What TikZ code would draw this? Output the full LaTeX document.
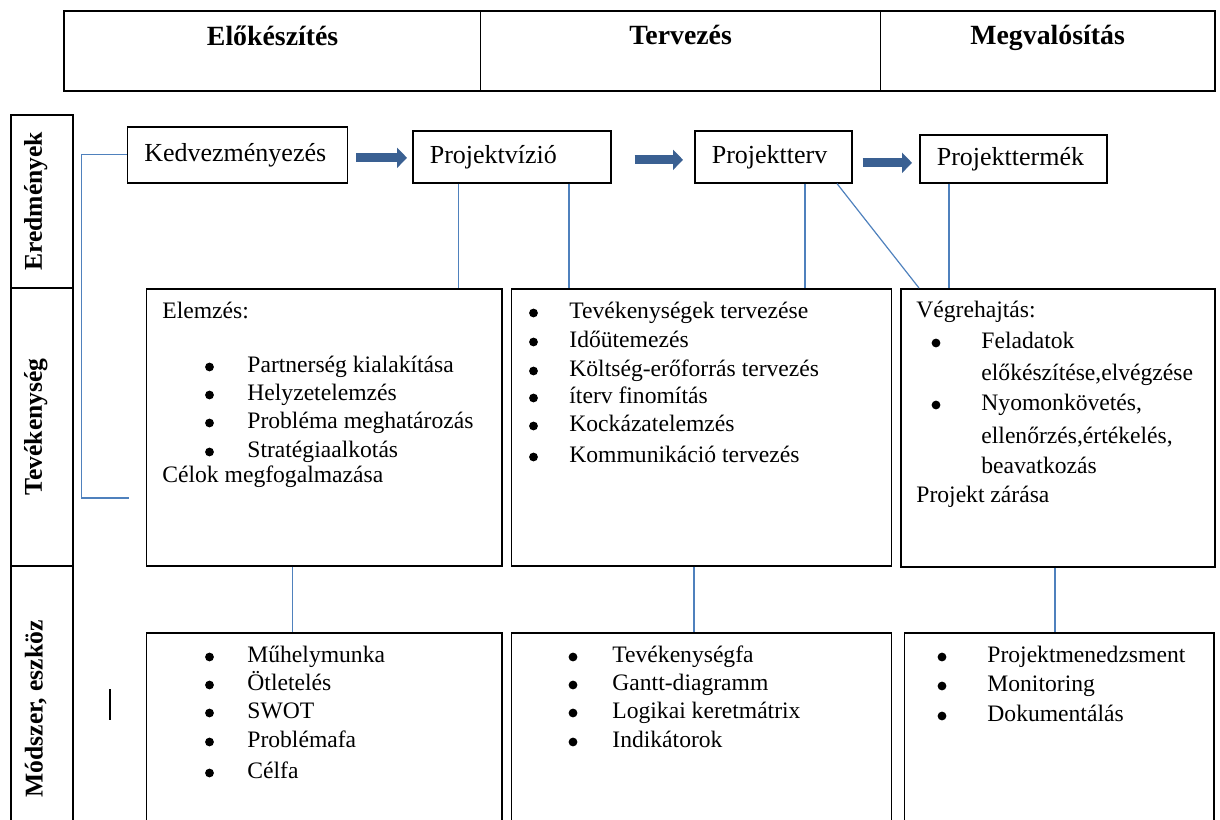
\documentclass[tikz,border=0pt]{standalone}
\usepackage{fontspec}
\setmainfont{Liberation Serif}
\usetikzlibrary{arrows.meta}
\usetikzlibrary{positioning}
\definecolor{linkblue}{RGB}{79,129,189}
\definecolor{arrowblue}{RGB}{58,96,146}

\begin{document}
\begin{tikzpicture}[x=0.5pt,y=-0.5pt,
    box/.style={draw, line width=0.8pt, anchor=north west, inner sep=0pt},
    resbox/.style={draw, line width=0.8pt, anchor=north west, inner xsep=8.5pt,
        inner ysep=0pt, align=left, font=\fontsize{13}{15}\selectfont},
    head/.style={font=\fontsize{13.9}{16}\selectfont\bfseries, inner sep=0pt},
    side/.style={font=\fontsize{12.8}{15}\selectfont\bfseries, rotate=90, inner sep=0pt},
    item/.style={anchor=west, inner sep=0pt, text height=8pt, text depth=2.5pt,
        font=\fontsize{11.8}{14}\selectfont},
    dot/.style={circle, fill, inner sep=0pt, minimum size=4.4pt},
    link/.style={draw=linkblue, line width=0.6pt},
    bigarrow/.style={draw=arrowblue, line width=4.5pt, -{Triangle[length=5pt,width=10pt]}}]

    \useasboundingbox (0,0) rectangle (1220,819);
    \clip (0,0) rectangle (1220,819);

    % phases
    \node[box, line width=0.6pt, minimum width=208pt, minimum height=39.5pt] (h1) at (64,11) {};
    \node[box, line width=0.6pt, minimum width=200pt, minimum height=39.5pt] (h2) at (480,11) {};
    \node[box, line width=0.6pt, minimum width=167pt, minimum height=39.5pt] (h3) at (880,11) {};
    \draw[line width=1.2pt] (h1.north west) rectangle (h3.south east);
    \node[head, below=7pt of h1.north] (t1) {Előkészítés};
    \node[head, below=7pt of h2.north] (t2) {Tervezés};
    \node[head, below=7pt of h3.north] (t3) {Megvalósítás};

    % row labels
    \node[box, minimum width=31pt, minimum height=86.5pt] (lab1) at (10,114) {};
    \node[box, minimum width=31pt, minimum height=139pt] (lab2) at (10,287) {};
    \node[box, minimum width=31pt, minimum height=143pt] (lab3) at (10,565) {};
    \node[side] (s1) at ([xshift=-3pt]lab1.center) {Eredmények};
    \node[side] (s2) at ([xshift=-3pt]lab2.center) {Tevékenység};
    \node[side] (s3) at ([xshift=-3pt]lab3.center) {Módszer, eszköz};

    % results
    \node[resbox, text width=93pt, minimum height=28pt] (kedv) at (126.5,126) {Kedvezményezés};
    \node[resbox, text width=82pt, minimum height=26pt] (vizio) at (412,130) {Projektvízió};
    \node[resbox, text width=61.5pt, minimum height=26pt] (terv) at (694,130) {Projektterv};
    \node[resbox, text width=76.5pt, minimum height=24pt] (termek) at (919,134) {Projekttermék};

    \draw[bigarrow, shorten <=4pt, shorten >=2.5pt] ([yshift=-1.5pt]kedv.east) -- ([yshift=-1.5pt]kedv.east -| vizio.west);
    \draw[bigarrow, shorten <=11.5pt, shorten >=5.5pt] ([yshift=-1.5pt]vizio.east) -- ([yshift=-1.5pt]vizio.east -| terv.west);
    \draw[bigarrow, shorten <=5pt, shorten >=3.5pt] ([yshift=-3pt]terv.east) -- ([yshift=-3pt]terv.east -| termek.west);

    % activities and methods
    \node[box, minimum width=177.75pt, minimum height=138.5pt] (elemzes) at (145.5,288) {};
    \node[box, minimum width=190pt, minimum height=138.5pt] (tervek) at (510.5,288) {};
    \node[box, minimum width=157pt, minimum height=139pt] (vegre) at (900,288) {};
    \node[box, minimum width=177.75pt, minimum height=110pt] (mod1) at (145.5,632) {};
    \node[box, minimum width=190pt, minimum height=110pt] (mod2) at (510.5,632) {};
    \node[box, minimum width=154.75pt, minimum height=110pt] (mod3) at (903.5,632) {};

    % links
    \coordinate (lp) at (129,498);
    \draw[link] (kedv.west) -- ++(-45,0) |- (lp);
    \draw[link] ([xshift=23.25pt]vizio.south west) -- ([xshift=23.25pt]vizio.south west |- elemzes.north);
    \draw[link] ([xshift=78.5pt]vizio.south west) -- ([xshift=78.5pt]vizio.south west |- tervek.north);
    \draw[link] ([xshift=55.5pt]terv.south west) -- ([xshift=55.5pt]terv.south west |- tervek.north);
    \draw[link] ([xshift=71.5pt]terv.south west) -- ([xshift=9.5pt]vegre.north west);
    \draw[link] ([xshift=15pt]termek.south west) -- ([xshift=15pt]termek.south west |- vegre.north);
    \draw[link] ([xshift=73.5pt]elemzes.south west) -- ([xshift=73.5pt]elemzes.south west |- mod1.north);
    \draw[link] ([xshift=91.75pt]tervek.south west) -- ([xshift=91.75pt]tervek.south west |- mod2.north);
    \draw[link] ([xshift=77.5pt]vegre.south west) -- ([xshift=77.5pt]vegre.south west |- mod3.north);

    % Elemzés
    \node[item] (e0) at (162,313) {Elemzés:};
    \foreach \y/\t [count=\i] in {367/Partnerség kialakítása, 395/Helyzetelemzés,
        423/Probléma meghatározás, 452/Stratégiaalkotás} {
        \node[dot] (eb\i) at (209.5,\y) {};
        \node[item] (et\i) at (247,\y) {\t};
    }
    \node[item] (e5) at (162,477) {Célok megfogalmazása};

    % Tervezés
    \foreach \y/\t [count=\i] in {313/Tevékenységek tervezése, 342/Időütemezés,
        371/Költség-erőforrás tervezés, 398/íterv finomítás, 426/Kockázatelemzés,
        457/Kommunikáció tervezés} {
        \node[dot] (tb\i) at (533.5,\y) {};
        \node[item] (tt\i) at (569,\y) {\t};
    }

    % Végrehajtás
    \node[item] (v0) at (916,312) {Végrehajtás:};
    \node[dot] (vb1) at (936,343) {};
    \node[item] (v1) at (981,343) {Feladatok};
    \node[item] (v2) at (981,375) {előkészítése,elvégzése};
    \node[dot] (vb2) at (936,405) {};
    \node[item] (v3) at (981,405) {Nyomonkövetés,};
    \node[item] (v4) at (981,438) {ellenőrzés,értékelés,};
    \node[item] (v5) at (981,468) {beavatkozás};
    \node[item] (v6) at (916,497) {Projekt zárása};

    % methods
    \foreach \y/\t [count=\i] in {657/Műhelymunka, 685/Ötletelés, 713/SWOT,
        742/Problémafa, 773/Célfa} {
        \node[dot] (mb\i) at (209.5,\y) {};
        \node[item] (mt\i) at (247,\y) {\t};
    }
    \foreach \y/\t [count=\i] in {657/Tevékenységfa, 685/Gantt-diagramm,
        713/Logikai keretmátrix, 742/Indikátorok} {
        \node[dot] (nb\i) at (573,\y) {};
        \node[item] (nt\i) at (612,\y) {\t};
    }
    \foreach \y/\t [count=\i] in {657/Projektmenedzsment, 686/Monitoring,
        716/Dokumentálás} {
        \node[dot] (pb\i) at (942,\y) {};
        \node[item] (pt\i) at (987,\y) {\t};
    }

    \draw[line width=1pt] (110,689) -- (110,720);
\end{tikzpicture}
\end{document}
